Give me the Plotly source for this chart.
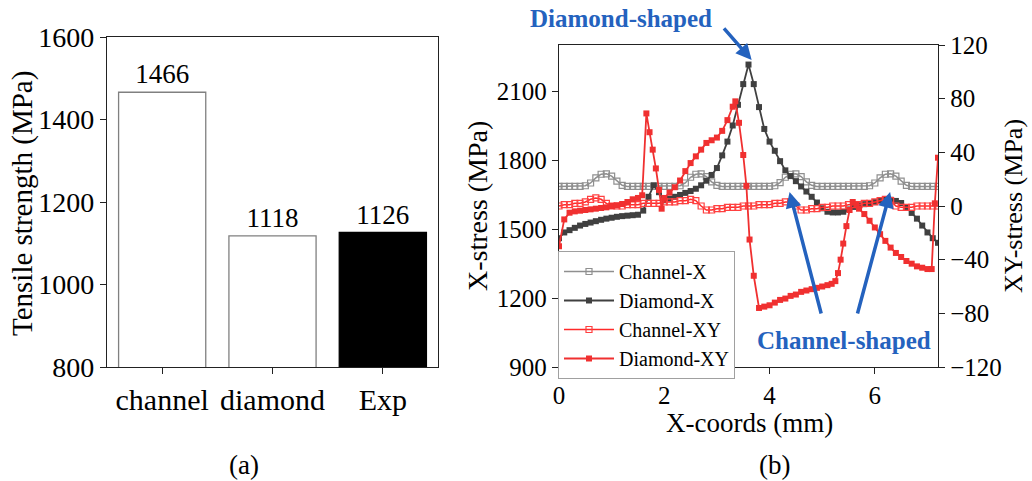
import plotly.graph_objects as go

# ---------------- data: panel (a) ----------------
categories = ["channel", "diamond", "Exp"]
strength = [1466, 1118, 1126]
bar_fill = ["white", "white", "black"]
bar_edge = ["#808080", "#808080", "black"]

# ---------------- data: panel (b) ----------------
x_grid = [0.0, 0.1, 0.2, 0.3, 0.4, 0.5, 0.6, 0.7, 0.8, 0.9,
          1.0, 1.1, 1.2, 1.3, 1.4, 1.5, 1.6, 1.7, 1.8, 1.9,
          2.0, 2.1, 2.2, 2.3, 2.4, 2.5, 2.6, 2.7, 2.8, 2.9,
          3.0, 3.1, 3.2, 3.3, 3.4, 3.5, 3.6, 3.7, 3.8, 3.9,
          4.0, 4.1, 4.2, 4.3, 4.4, 4.5, 4.6, 4.7, 4.8, 4.9,
          5.0, 5.1, 5.2, 5.3, 5.4, 5.5, 5.6, 5.7, 5.8, 5.9,
          6.0, 6.1, 6.2, 6.3, 6.4, 6.5, 6.6, 6.7, 6.8, 6.9,
          7.0, 7.1, 7.2]

channel_x = [1685, 1685, 1685, 1685, 1685, 1688, 1700, 1722, 1738, 1740,
             1730, 1708, 1690, 1685, 1685, 1685, 1685, 1685, 1685, 1685,
             1685, 1685, 1685, 1688, 1700, 1725, 1738, 1740, 1728, 1705,
             1690, 1685, 1685, 1685, 1685, 1685, 1685, 1685, 1685, 1685,
             1685, 1688, 1702, 1725, 1738, 1740, 1728, 1705, 1690, 1685,
             1685, 1685, 1685, 1685, 1685, 1685, 1685, 1685, 1685, 1688,
             1700, 1722, 1738, 1740, 1730, 1708, 1690, 1685, 1685, 1685,
             1685, 1685, 1685]

diamond_x = [1460, 1485, 1495, 1505, 1515, 1522, 1528, 1534, 1540, 1545,
             1549, 1553, 1556, 1558, 1560, 1562, 1580, 1640, 1690, 1660,
             1625, 1632, 1640, 1648, 1657, 1665, 1675, 1690, 1710, 1735,
             1765, 1820, 1880, 1950, 2040, 2130, 2215, 2130, 2030, 1935,
             1880, 1840, 1795, 1755, 1730, 1708, 1685, 1663, 1640, 1615,
             1590, 1575, 1572, 1572, 1575, 1585, 1596, 1603, 1608, 1612,
             1617, 1622, 1626, 1627, 1622, 1613, 1595, 1570, 1545, 1515,
             1485, 1460, 1440]

channel_xy = [0, 1, 1, 2, 2, 3, 5, 6, 5, 2,
              0, 0, 0, 1, 1, 1, 2, 2, 2, 2,
              3, 3, 3, 4, 4, 5, 4, 0, -3, -3,
              -2, -2, -1, -1, -1, 0, 0, 0, 1, 1,
              1, 2, 2, 3, 3, 0, -3, -3, -2, -2,
              -1, -1, 0, 0, 0, 1, 1, 1, 2, 2,
              3, 4, 5, 4, 0, -1, -1, -1, 0, 0,
              0, 0, 0]

x_dxy = [0.0, 0.1, 0.2, 0.3, 0.4, 0.5, 0.6, 0.7, 0.8, 0.9,
         1.0, 1.1, 1.2, 1.3, 1.4, 1.5, 1.58, 1.66, 1.72, 1.78,
         1.84, 1.9, 1.95, 2.0, 2.1, 2.2, 2.3, 2.4, 2.5, 2.6,
         2.7, 2.8, 2.9, 3.0, 3.1, 3.2, 3.3, 3.35, 3.42, 3.5,
         3.56, 3.62, 3.7, 3.8, 3.9, 4.0, 4.1, 4.2, 4.3, 4.4,
         4.5, 4.6, 4.7, 4.8, 4.9, 5.0, 5.1, 5.18, 5.25, 5.3,
         5.35, 5.4, 5.46, 5.52, 5.58, 5.65, 5.7, 5.8, 5.9, 6.0,
         6.1, 6.2, 6.3, 6.4, 6.5, 6.6, 6.7, 6.8, 6.9, 7.0,
         7.08, 7.14, 7.2]
diamond_xy = [-30, -10, -5, -4, -3.5, -3, -2.5, -2, -1.5, -1,
              0, 0.5, 1.5, 3, 5, 6, 8, 69, 55, 42,
              28, 12, -2, 6, 10, 14, 19, 26, 32, 37,
              42, 47, 49, 51, 56, 64, 74, 78, 62, 38,
              15, -25, -52, -76, -75, -74, -72, -70, -69, -67,
              -66, -64, -63, -62, -61, -60, -59, -58, -56, -50,
              -40, -28, -15, -3, 3, 1, -2, -6, -11, -16,
              -21, -26, -31, -35, -38, -41, -43, -45, -46, -47,
              -47, 2, 36]

x_ticks = [0, 2, 4, 6]
xstress_ticks = [900, 1200, 1500, 1800, 2100]
xystress_ticks = [-120, -80, -40, 0, 40, 80, 120]
strength_ticks = [800, 1000, 1200, 1400, 1600]

FONT = "Liberation Serif, Times New Roman, serif"
BLUE = "#2462BE"
W, H = 1032, 481
ML, MR, MT, MB = 40, 60, 30, 70
WP, HP = W - ML - MR, H - MT - MB


def px(xp):
    # picture pixel -> paper fraction of the plot area
    return (xp - ML) / WP


def py(yp):
    return 1 - (yp - MT) / HP


def label(text, xp, yp, size, angle=0, color="black"):
    return dict(text=text, x=px(xp), y=py(yp), xref="paper", yref="paper",
                xanchor="center", yanchor="middle", textangle=angle,
                showarrow=False, font=dict(family=FONT, size=size, color=color))


def arrow(xv, yv, ax, ay):
    return dict(text="", x=xv, y=yv, xref="x2", yref="y2", ax=ax, ay=ay,
                showarrow=True, arrowhead=2, arrowsize=0.9, arrowwidth=3.5,
                arrowcolor=BLUE)


fig = go.Figure()

# ---------- panel (a) ----------
fig.add_trace(go.Bar(
    x=categories, y=strength, xaxis="x", yaxis="y",
    marker=dict(color=bar_fill, line=dict(color=bar_edge, width=1.3)),
    width=0.79, text=[str(v) for v in strength], textposition="outside",
    textfont=dict(family=FONT, size=27, color="black"),
    cliponaxis=False, showlegend=False,
))

# ---------- panel (b) ----------
fig.add_trace(go.Scatter(
    x=x_grid, y=channel_x, xaxis="x2", yaxis="y2", name="Channel-X",
    mode="lines+markers",
    line=dict(color="#8f8f8f", width=1.5),
    marker=dict(symbol="square-open", size=6, color="#8f8f8f", line=dict(width=1.2)),
))
fig.add_trace(go.Scatter(
    x=x_grid, y=diamond_x, xaxis="x2", yaxis="y2", name="Diamond-X",
    mode="lines+markers",
    line=dict(color="#404040", width=1.8),
    marker=dict(symbol="square", size=6, color="#404040"),
))
fig.add_trace(go.Scatter(
    x=x_grid, y=channel_xy, xaxis="x2", yaxis="y3", name="Channel-XY",
    mode="lines+markers",
    line=dict(color="#ff2a2a", width=1.5),
    marker=dict(symbol="square-open", size=6, color="#ff4040", line=dict(width=1.2)),
))
fig.add_trace(go.Scatter(
    x=x_dxy, y=diamond_xy, xaxis="x2", yaxis="y3", name="Diamond-XY",
    mode="lines+markers",
    line=dict(color="#f03030", width=1.8),
    marker=dict(symbol="square", size=6, color="#f03030"),
))

axis_common = dict(
    showline=True, linecolor="#222", linewidth=1.3,
    ticks="outside", ticklen=6, tickwidth=1.3, tickcolor="#222",
    showgrid=False, zeroline=False, automargin=False,
)

annotations = [
    label("Tensile strength (MPa)", 22, 204, 29, angle=-90),
    label("X-stress (MPa)", 477, 206, 28, angle=-90),
    label("XY-stress (MPa)", 1013, 206, 26, angle=-90),
    label("X-coords (mm)", 749, 423, 27),
    label("(a)", 244, 465, 27),
    label("(b)", 774, 465, 27),
    label("<b>Diamond-shaped</b>", 621, 19, 25, color=BLUE),
    label("<b>Channel-shaped</b>", 844, 340, 25, color=BLUE),
    # arrows (heads anchored on the data features they point at)
    arrow(3.66, 2235, -29, -33),
    arrow(4.38, 1661, 32, 123),
    arrow(6.29, 1661, -33, 123),
]

fig.update_layout(
    width=W, height=H,
    margin=dict(l=ML, r=MR, t=MT, b=MB, autoexpand=False),
    paper_bgcolor="white", plot_bgcolor="white",
    font=dict(family=FONT, color="black"),
    bargap=0.21,
    xaxis=dict(domain=[px(107), px(438)], anchor="y", type="category",
               range=[-0.5, 2.5], mirror=True,
               tickfont=dict(family=FONT, size=30, color="black"), **axis_common),
    yaxis=dict(domain=[py(367), py(37)], anchor="x", range=[800, 1600],
               tickvals=strength_ticks, mirror=True,
               tickfont=dict(family=FONT, size=28, color="black"), **axis_common),
    xaxis2=dict(domain=[px(559), px(938)], anchor="y2", range=[0, 7.2],
                tickvals=x_ticks, mirror=True,
                tickfont=dict(family=FONT, size=25, color="black"), **axis_common),
    yaxis2=dict(domain=[py(367), py(45)], anchor="x2", range=[900, 2300],
                tickvals=xstress_ticks,
                tickfont=dict(family=FONT, size=25, color="black"), **axis_common),
    yaxis3=dict(overlaying="y2", side="right", anchor="x2", range=[-120, 120],
                tickvals=xystress_ticks,
                tickfont=dict(family=FONT, size=25, color="black"), **axis_common),
    legend=dict(x=px(558), y=py(251), xanchor="left", yanchor="top",
                bgcolor="white", bordercolor="#a0a0a0", borderwidth=1,
                font=dict(family=FONT, size=20, color="black"),
                tracegroupgap=0, itemwidth=50),
    annotations=annotations,
)

fig.write_html("out.html")
